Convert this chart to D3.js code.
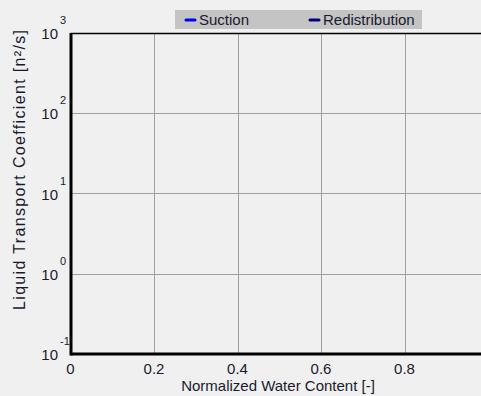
<!DOCTYPE html>
<html><head><meta charset="utf-8">
<script src="https://cdn.jsdelivr.net/npm/d3@7"></script>
<style>
html,body{margin:0;padding:0;background:#f0f0f0;overflow:hidden}
svg{display:block}
text{font-family:"Liberation Sans",Arial,sans-serif;fill:#1a1a2e}
</style></head><body>
<svg id="chart" width="481" height="396"></svg>
<script>
// Axis ticks and labels
const xTicks = [0, 0.2, 0.4, 0.6, 0.8];
const xTickLabels = ["0", "0.2", "0.4", "0.6", "0.8"];
const yTicks = [0.1, 1, 10, 100, 1000];
const yExponents = ["-1", "0", "1", "2", "3"];

// Series (no measured points loaded)
const seriesNames = ["Suction", "Redistribution"];
const seriesColors = ["#0000ff", "#000080"];
const suctionX = [];
const suctionY = [];
const redistributionX = [];
const redistributionY = [];

const svg = d3.select("#chart");
const W = 481, H = 396;
const m = {left: 70.5, top: 33, bottom: 354, right: 488};
// horizontal rules run to the visible edge
const edge = W;

const x = d3.scaleLinear().domain([0, 1]).range([m.left, m.right]);
const y = d3.scaleLog().domain([0.1, 1000]).range([m.bottom, m.top]);

svg.append("rect").attr("width", W).attr("height", H).attr("fill", "#f0f0f0");

// grid
const grid = svg.append("g");
grid.selectAll("line.v").data(xTicks.slice(1)).join("line")
  .attr("x1", d => Math.round(x(d)) + 0.5).attr("x2", d => Math.round(x(d)) + 0.5)
  .attr("y1", m.top).attr("y2", m.bottom)
  .attr("stroke", "#a0a0a0").attr("stroke-width", 1);
grid.selectAll("line.h").data(yTicks.slice(1, -1)).join("line")
  .attr("x1", m.left).attr("x2", edge)
  .attr("y1", d => Math.round(y(d)) + 0.5).attr("y2", d => Math.round(y(d)) + 0.5)
  .attr("stroke", "#a0a0a0").attr("stroke-width", 1);

// series lines (only those with points)
const line = d3.line().x(d => x(d[0])).y(d => y(d[1]));
const series = [
  {color: seriesColors[0], pts: d3.zip(suctionX, suctionY)},
  {color: seriesColors[1], pts: d3.zip(redistributionX, redistributionY)}
].filter(s => s.pts.length > 1);
svg.selectAll("path.series").data(series).join("path")
  .attr("class", "series").attr("fill", "none")
  .attr("stroke", d => d.color).attr("stroke-width", 2)
  .attr("d", d => line(d.pts));

// frame
svg.append("line").attr("x1", m.left).attr("x2", edge).attr("y1", m.top + 0.5).attr("y2", m.top + 0.5)
  .attr("stroke", "#000").attr("stroke-width", 1.5);
svg.append("line").attr("x1", m.left + 0.5).attr("x2", m.left + 0.5).attr("y1", m.top).attr("y2", m.bottom + 1.5)
  .attr("stroke", "#000").attr("stroke-width", 3);
svg.append("line").attr("x1", m.left).attr("x2", edge).attr("y1", m.bottom).attr("y2", m.bottom)
  .attr("stroke", "#000").attr("stroke-width", 3);

// x axis labels
const gx = svg.append("g");
gx.selectAll("text").data(xTicks).join("text")
  .attr("x", d => x(d)).attr("y", m.bottom + 20)
  .attr("text-anchor", "middle").attr("font-size", 15)
  .text((d, i) => xTickLabels[i]);

// y axis labels: 10 with superscript exponent
const gy = svg.append("g");
yTicks.forEach((t, i) => {
  const yy = y(t);
  gy.append("text").attr("x", 58).attr("y", yy + 6)
    .attr("text-anchor", "end").attr("font-size", 15).text("10");
  gy.append("text").attr("x", 60).attr("y", yy - 9)
    .attr("font-size", 11).text(yExponents[i]);
});

// axis titles
svg.append("text").attr("x", 278).attr("y", 391).attr("text-anchor", "middle")
  .attr("font-size", 15).text("Normalized Water Content [-]");
svg.append("text").attr("transform", "translate(25,170) rotate(-90)")
  .attr("text-anchor", "middle").attr("font-size", 16)
  .attr("textLength", 280).attr("lengthAdjust", "spacing")
  .text("Liquid Transport Coefficient [n²/s]");

// legend
const lg = svg.append("g");
lg.append("rect").attr("x", 175).attr("y", 10).attr("width", 247).attr("height", 19).attr("fill", "#c4c4c4");
const legendX = [186, 310];
seriesNames.forEach((n, i) => {
  lg.append("line").attr("x1", legendX[i]).attr("x2", legendX[i] + 9)
    .attr("y1", 20).attr("y2", 20).attr("stroke", seriesColors[i]).attr("stroke-width", 3)
    .attr("stroke-linecap", "round");
  lg.append("text").attr("x", legendX[i] + 13).attr("y", 25).attr("font-size", 15).text(n);
});
</script>
</body></html>
